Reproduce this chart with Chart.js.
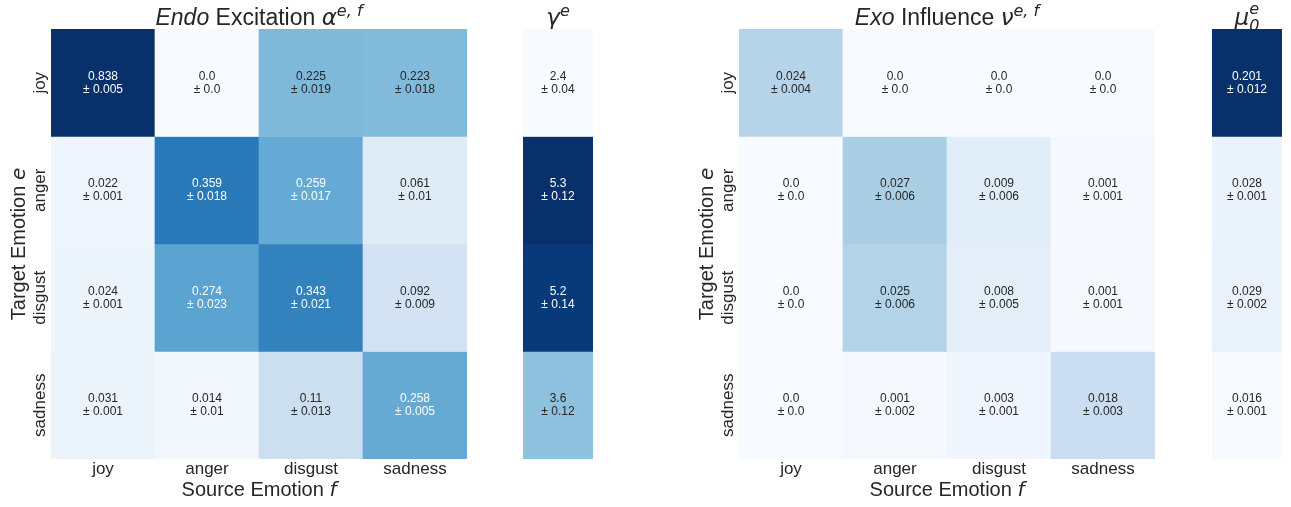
<!DOCTYPE html>
<html>
<head>
<meta charset="utf-8">
<script src="https://cdn.jsdelivr.net/npm/chart.js@4.4.0/dist/chart.umd.min.js"></script>
<style>
  body { margin: 0; background: #fff; width: 1291px; height: 507px; overflow: hidden; position: relative; }
  .panel { position: absolute; top: 0; height: 507px; }
</style>
</head>
<body>
<div class="panel" style="left:0;width:470px"><canvas id="endo"></canvas></div>
<div class="panel" style="left:523px;width:70px"><canvas id="gamma"></canvas></div>
<div class="panel" style="left:688px;width:470px"><canvas id="exo"></canvas></div>
<div class="panel" style="left:1212px;width:70px"><canvas id="mu"></canvas></div>
<script>
// emotions on both axes
const sourceEmotions = ['joy', 'anger', 'disgust', 'sadness'];
const targetEmotions = ['joy', 'anger', 'disgust', 'sadness'];

// Endo excitation alpha (rows = target, cols = source)
const endoMean = [
  [0.838, 0.0, 0.225, 0.223],
  [0.022, 0.359, 0.259, 0.061],
  [0.024, 0.274, 0.343, 0.092],
  [0.031, 0.014, 0.11, 0.258]
];
const endoStd = [
  [0.005, 0.0, 0.019, 0.018],
  [0.001, 0.018, 0.017, 0.01],
  [0.001, 0.023, 0.021, 0.009],
  [0.001, 0.01, 0.013, 0.005]
];

// gamma per target emotion
const gammaMean = [2.4, 5.3, 5.2, 3.6];
const gammaStd = [0.04, 0.12, 0.14, 0.12];

// Exo influence nu
const exoMean = [
  [0.024, 0.0, 0.0, 0.0],
  [0.0, 0.027, 0.009, 0.001],
  [0.0, 0.025, 0.008, 0.001],
  [0.0, 0.001, 0.003, 0.018]
];
const exoStd = [
  [0.004, 0.0, 0.0, 0.0],
  [0.0, 0.006, 0.006, 0.001],
  [0.0, 0.006, 0.005, 0.001],
  [0.0, 0.002, 0.001, 0.003]
];

// mu_0 per target emotion
const muMean = [0.201, 0.028, 0.029, 0.016];
const muStd = [0.012, 0.001, 0.002, 0.001];

const SANS = "'Liberation Sans', Arial, sans-serif";
const MATH = "'DejaVu Sans', sans-serif";
const DARK = '#262626';

// matplotlib "Blues"
const BLUES = ['#f7fbff', '#deebf7', '#c6dbef', '#9ecae1', '#6baed6', '#4292c6', '#2171b5', '#08519c', '#08306b'];
function hexRgb(h) {
  return [1, 3, 5].map(i => parseInt(h.substr(i, 2), 16));
}
function bluesRgb(t) {
  t = Math.max(0, Math.min(1, t));
  const p = t * (BLUES.length - 1);
  const i = Math.min(Math.floor(p), BLUES.length - 2);
  const f = p - i;
  const a = hexRgb(BLUES[i]), b = hexRgb(BLUES[i + 1]);
  return a.map((v, k) => Math.round(v + (b[k] - v) * f));
}
function textColorFor(rgb) {
  // same rule seaborn uses for annotations
  const lin = rgb.map(c => {
    c /= 255;
    return c <= 0.03928 ? c / 12.92 : Math.pow((c + 0.055) / 1.055, 2.4);
  });
  const lum = 0.2126 * lin[0] + 0.7152 * lin[1] + 0.0722 * lin[2];
  return lum > 0.408 ? DARK : '#ffffff';
}
function fmt(v) {
  return Number.isInteger(v) ? v.toFixed(1) : String(v);
}

// draws text made of several styled pieces, centred on cx, baseline at cy
function drawRich(ctx, parts, cx, cy, rotate) {
  ctx.save();
  ctx.translate(cx, cy);
  if (rotate) ctx.rotate(-Math.PI / 2);
  ctx.textBaseline = 'alphabetic';
  ctx.textAlign = 'left';
  ctx.fillStyle = DARK;
  let w = 0;
  parts.forEach(p => {
    ctx.font = p.font;
    p.w = ctx.measureText(p.text).width;
    if (!p.stay) w += p.w;
  });
  let x = -w / 2;
  parts.forEach(p => {
    ctx.font = p.font;
    ctx.fillText(p.text, x, p.dy || 0);
    if (!p.stay) x += p.w;
  });
  ctx.restore();
}

const heatText = {
  id: 'heatText',
  beforeDatasetsDraw(chart, args, o) {
    const a = chart.chartArea;
    if (o.title) drawRich(chart.ctx, o.title, (a.left + a.right) / 2, 25);
  },
  afterDatasetsDraw(chart, args, o) {
    const ctx = chart.ctx;
    ctx.save();
    ctx.font = '12px ' + SANS;
    ctx.textAlign = 'center';
    ctx.textBaseline = 'middle';
    chart.data.datasets.forEach((ds, r) => {
      chart.getDatasetMeta(r).data.forEach((el, c) => {
        const yc = (el.y + el.base) / 2;
        ctx.fillStyle = ds.textColors[c];
        ctx.fillText(fmt(o.mean[r][c]), el.x, yc - 6.5);
        ctx.fillText('\u00b1 ' + fmt(o.std[r][c]), el.x, yc + 6.5);
      });
    });
    ctx.restore();
  },
  afterDraw(chart, args, o) {
    const a = chart.chartArea;
    if (o.xTitle) drawRich(chart.ctx, o.xTitle, (a.left + a.right) / 2, 496);
    if (o.yTitle) drawRich(chart.ctx, o.yTitle, 25, (a.top + a.bottom) / 2, true);
  }
};
Chart.register(heatText);

function makeHeatmap(id, mean, std, cols, vmin, vmax, withAxes, title) {
  const datasets = mean.map((row, r) => {
    const rgbs = row.map(v => bluesRgb((v - vmin) / (vmax - vmin)));
    return {
      data: row.map(() => [r, r + 1]),
      backgroundColor: rgbs.map(c => 'rgb(' + c.join(',') + ')'),
      textColors: rgbs.map(textColorFor),
      grouped: false,
      barPercentage: 1,
      categoryPercentage: 1,
      borderWidth: 0
    };
  });
  const axisTitle = (txt, v) => [
    { text: txt, font: '20px ' + SANS },
    { text: v, font: 'italic 20px ' + MATH }
  ];
  new Chart(document.getElementById(id), {
    type: 'bar',
    data: { labels: cols, datasets: datasets },
    options: {
      responsive: true,
      maintainAspectRatio: false,
      animation: false,
      events: [],
      layout: { padding: withAxes ? { top: 29, right: 3 } : { top: 29, bottom: 48 } },
      plugins: {
        legend: { display: false },
        tooltip: { enabled: false },
        heatText: {
          mean: mean,
          std: std,
          title: title,
          xTitle: withAxes ? axisTitle('Source Emotion ', 'f') : null,
          yTitle: withAxes ? axisTitle('Target Emotion ', 'e') : null
        }
      },
      scales: {
        x: {
          display: withAxes,
          grid: { display: false, drawTicks: false },
          border: { display: false },
          ticks: { font: { family: SANS, size: 17 }, color: DARK, padding: 0, maxRotation: 0 },
          afterFit: s => { s.height = withAxes ? 48 : 0; }
        },
        y: {
          display: withAxes,
          type: 'linear',
          min: 0,
          max: targetEmotions.length,
          reverse: true,
          grid: { display: false, drawTicks: false },
          border: { display: false },
          afterBuildTicks: s => { s.ticks = targetEmotions.map((_, i) => ({ value: i + 0.5 })); },
          ticks: {
            callback: (v, i) => targetEmotions[i],
            font: { family: SANS, size: 17 },
            color: DARK,
            minRotation: 90,
            maxRotation: 90,
            crossAlign: 'center',
            padding: -21
          },
          afterFit: s => { s.width = withAxes ? 51 : 0; }
        }
      }
    }
  });
}

const col = v => v.map(x => [x]);
const big = 'px ' + SANS;

makeHeatmap('endo', endoMean, endoStd, sourceEmotions, 0, 0.5, true, [
  { text: 'Endo', font: 'italic 23' + big },
  { text: ' Excitation ', font: '23' + big },
  { text: '\u03b1', font: 'italic 23px ' + MATH },
  { text: 'e, f', font: 'italic 16px ' + MATH, dy: -9 }
]);
makeHeatmap('gamma', col(gammaMean), col(gammaStd), ['\u03b3'],
  Math.min(...gammaMean), Math.max(...gammaMean), false, [
  { text: '\u03b3', font: 'italic 23px ' + MATH },
  { text: 'e', font: 'italic 16px ' + MATH, dy: -9 }
]);
makeHeatmap('exo', exoMean, exoStd, sourceEmotions, 0, 0.08, true, [
  { text: 'Exo', font: 'italic 23' + big },
  { text: ' Influence ', font: '23' + big },
  { text: '\u03bd', font: 'italic 23px ' + MATH },
  { text: 'e, f', font: 'italic 16px ' + MATH, dy: -9 }
]);
makeHeatmap('mu', col(muMean), col(muStd), ['\u03bc'],
  Math.min(...muMean), Math.max(...muMean), false, [
  { text: '\u03bc', font: 'italic 23px ' + MATH },
  { text: 'e', font: 'italic 16px ' + MATH, dy: -11, stay: true },
  { text: '0', font: 'italic 16px ' + MATH, dy: 6 }
]);
</script>
</body>
</html>
